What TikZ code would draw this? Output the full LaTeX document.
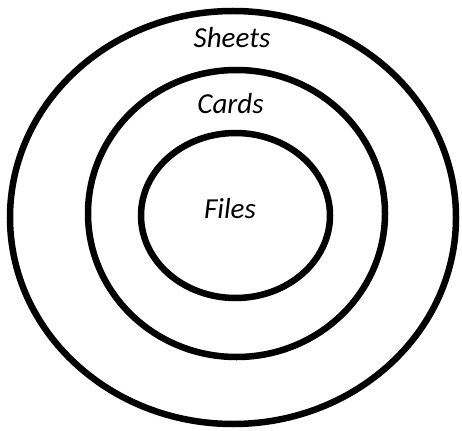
\documentclass[tikz,border=0pt]{standalone}
\usepackage{fontspec}
\setmainfont{Carlito}
\begin{document}
\begin{tikzpicture}[x=1pt,y=-1pt,
  ring/.style={draw=black,line width=6.5pt},
  lbl/.style={font=\itshape\fontsize{29}{32}\selectfont,inner sep=0pt,anchor=base}]
\useasboundingbox (0,0) rectangle (462,430);
\draw[ring] (233,217.5) ellipse [x radius=223, y radius=206.5];
\draw[ring] (236.5,213.5) ellipse [x radius=148.5, y radius=143.5];
\draw[ring] (235.5,215.5) ellipse [x radius=94.5, y radius=82.5];
\node[lbl] (sheets) at (232,47.3) {Sheets};
\node[lbl] (cards) at (230.5,113.3) {Cards};
\node[lbl] (files) at (230,218.3) {Files};
\end{tikzpicture}
\end{document}
